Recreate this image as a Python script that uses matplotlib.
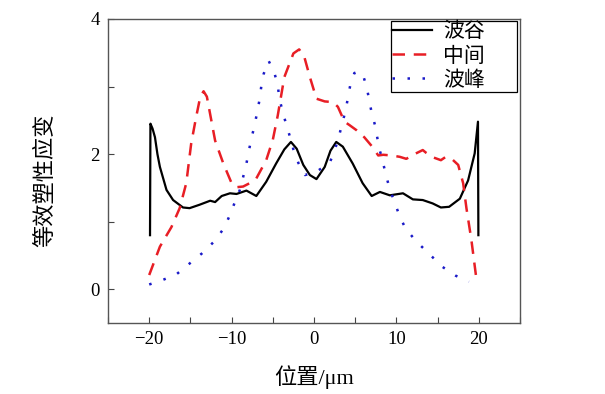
import matplotlib
matplotlib.use("Agg")
import matplotlib.pyplot as plt
from matplotlib.ticker import MultipleLocator

plt.rcParams['font.family'] = ['Liberation Serif', 'Noto Sans CJK SC']
plt.rcParams['axes.unicode_minus'] = True

# 波谷 (valley)
black_x = [-19.9, -19.85, -19.6, -19.3, -19.0, -18.7, -17.9, -17.1, -15.9, -15.1, -13.9,
           -12.6, -12.0, -11.2, -10.2, -9.4, -8.2, -7.0, -5.8, -4.6, -3.6, -2.8, -2.1,
           -1.3, -0.5, 0.3, 1.3, 2.0, 2.7, 3.5, 4.7, 5.9, 7.0, 8.0, 9.2, 10.8, 12.0,
           13.2, 14.4, 15.4, 16.4, 17.7, 18.7, 19.5, 19.9, 19.95]
black_y = [0.80, 2.45, 2.38, 2.25, 2.00, 1.81, 1.47, 1.32, 1.21, 1.20, 1.25,
           1.31, 1.29, 1.38, 1.42, 1.41, 1.46, 1.38, 1.59, 1.86, 2.07, 2.18, 2.08,
           1.84, 1.69, 1.63, 1.81, 2.05, 2.18, 2.11, 1.86, 1.57, 1.38, 1.44, 1.39, 1.42, 1.33,
           1.32, 1.27, 1.21, 1.22, 1.34, 1.61, 2.01, 2.48, 0.80]

# 中间 (middle)
red_x = [-20.0, -18.7, -17.3, -16.3, -15.5, -14.9, -14.3, -13.8, -13.4, -13.0, -12.0,
         -11.0, -10.0, -9.4, -8.6, -7.8, -7.0, -5.8, -5.0, -4.4, -3.6, -2.5, -1.8,
         -1.2, -0.5, 0.3, 1.3, 2.3, 2.9, 3.7, 4.3, 5.2, 6.1, 7.0, 7.8, 8.4, 9.4,
         10.4, 11.2, 12.2, 13.2, 13.6, 14.5, 15.4, 16.0, 16.8, 17.5, 18.1, 18.5,
         19.1, 19.7]
red_y = [0.21, 0.63, 0.92, 1.20, 1.57, 2.16, 2.55, 2.85, 2.93, 2.85, 2.20,
         1.86, 1.57, 1.51, 1.52, 1.57, 1.64, 1.91, 2.21, 2.57, 3.14, 3.49, 3.55,
         3.45, 3.14, 2.82, 2.78, 2.77, 2.70, 2.48, 2.43, 2.35, 2.25, 2.12, 1.98, 1.99, 1.98,
         1.96, 1.93, 2.00, 2.06, 2.02, 1.95, 1.91, 1.96, 1.92, 1.84, 1.57, 1.20,
         0.73, 0.16]

# 波峰 (peak)
blue_x = [-20.0, -18.3, -16.7, -15.2, -13.6, -12.0, -10.9, -10.2, -9.6, -9.0, -8.6,
          -8.2, -7.9, -7.6, -7.2, -6.9, -6.6, -6.4, -6.1, -5.5, -4.8, -4.4, -4.2,
          -3.8, -3.4, -2.9, -2.5, -1.9, -1.1, 0.3, 1.9, 2.5, 3.0, 3.4, 3.8, 4.1,
          4.4, 4.9, 5.4, 5.9, 6.4, 6.7, 7.0, 7.4, 7.7, 8.0, 8.4, 8.8, 9.2, 9.8,
          10.4, 11.1, 12.4, 14.0, 15.6, 17.2, 18.8]
blue_y = [0.07, 0.14, 0.22, 0.37, 0.53, 0.72, 0.91, 1.10, 1.29, 1.47, 1.66,
          1.86, 2.05, 2.23, 2.43, 2.62, 2.81, 3.00, 3.19, 3.38, 3.20, 3.02, 2.82,
          2.63, 2.45, 2.25, 2.07, 1.87, 1.69, 1.74, 1.87, 2.05, 2.25, 2.44, 2.63, 2.82,
          3.02, 3.20, 3.22, 3.19, 2.99, 2.80, 2.61, 2.43, 2.23, 2.05, 1.86, 1.66, 1.48, 1.28,
          1.08, 0.90, 0.71, 0.52, 0.33, 0.20, 0.11]

labels = ['波谷', '中间', '波峰']

fig = plt.figure(figsize=(6.05, 3.94), dpi=100)
ax = fig.add_axes([0.1785, 0.1802, 0.681, 0.7716])

ax.plot(black_x, black_y, color='black', lw=1.6, label=labels[0])
ax.plot(red_x, red_y, color='#e81e25', lw=1.8, linestyle=(0, (5, 3.5)), label=labels[1])
ax.plot(blue_x, blue_y, color='#1a1ac8', lw=1.8, linestyle=(0, (1, 5)), label=labels[2])

ax.set_xlim(-25, 25)
ax.set_ylim(-0.5, 4)
ax.xaxis.set_major_locator(MultipleLocator(10))
ax.xaxis.set_minor_locator(MultipleLocator(5))
ax.yaxis.set_major_locator(MultipleLocator(2))
ax.yaxis.set_minor_locator(MultipleLocator(1))
ax.tick_params(which='both', direction='in', length=4, width=0.8, color='#444444',
               labelsize=13.5, pad=6)

for s in ax.spines.values():
    s.set_color('#555555')
    s.set_linewidth(1.0)

ax.set_xlabel('位置/μm', fontsize=16, labelpad=12)
ax.set_ylabel('等效塑性应变', fontsize=16)
ax.yaxis.set_label_coords(-0.125, 0.47)

leg = ax.legend(loc='upper left', bbox_to_anchor=(0.686, 0.757, 0.306, 0.236),
                mode='expand', borderaxespad=0, fontsize=15, handlelength=1.9,
                handletextpad=0.55, labelspacing=0.22, borderpad=0.08,
                fancybox=False, framealpha=1, edgecolor='black')
leg.get_frame().set_linewidth(0.9)

fig.savefig('out.png', dpi=100)
